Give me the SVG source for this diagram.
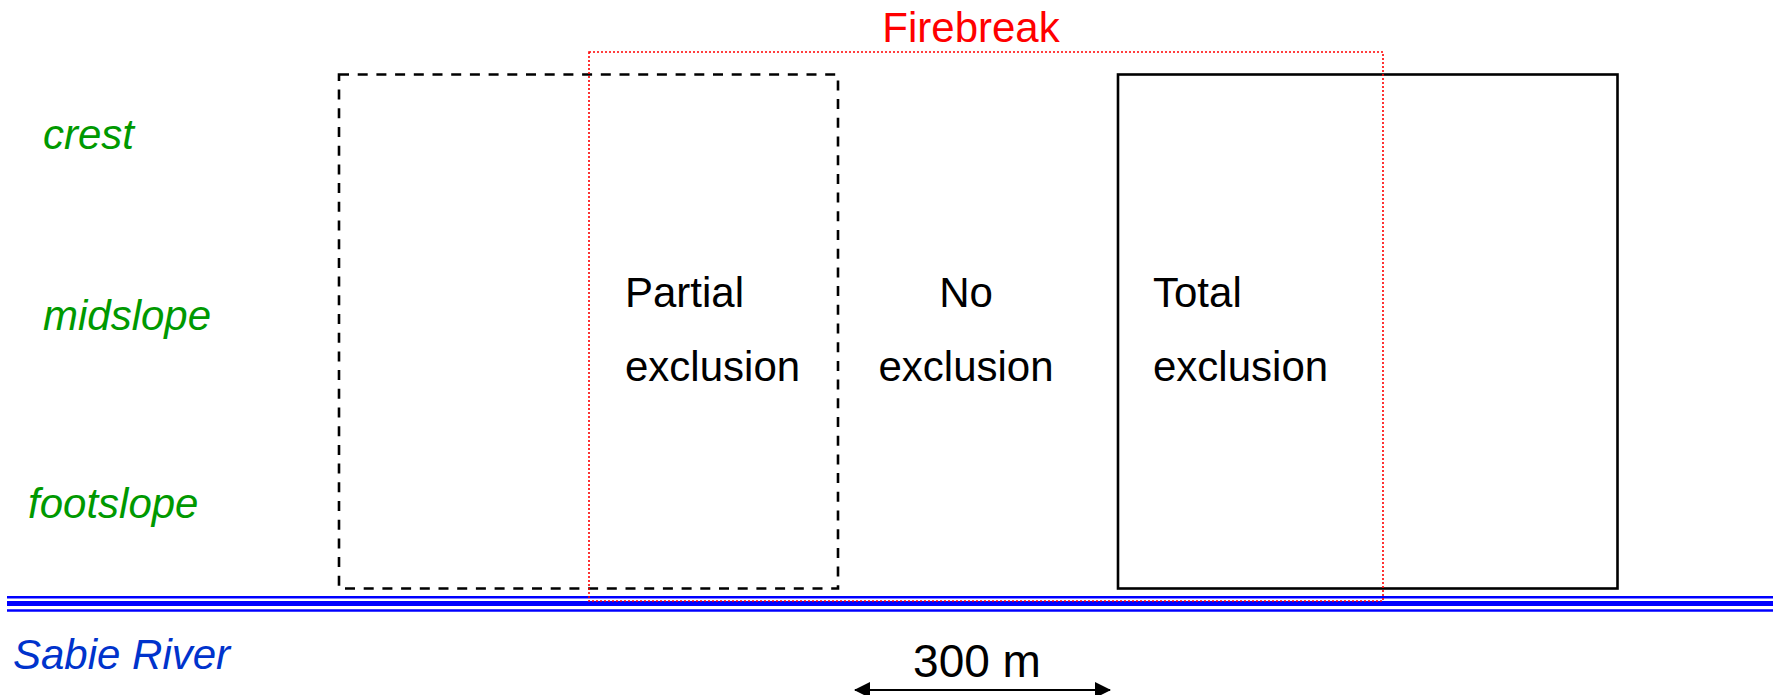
<svg xmlns="http://www.w3.org/2000/svg" width="1773" height="695" viewBox="0 0 1773 695">
<style>
text{font-family:"Liberation Sans",Arial,sans-serif;font-size:42px}
.slope{fill:#009900;font-style:italic}
.lbl{fill:#000}
.river{stroke:#0000ff;fill:none}
</style>
<defs>
<marker id="ah" viewBox="0 0 16 16" refX="15" refY="8" markerWidth="16" markerHeight="16" markerUnits="userSpaceOnUse" orient="auto-start-reverse">
<path d="M0,0 L16,8 L0,16 Z" fill="#000"/>
</marker>
</defs>
<rect width="1773" height="695" fill="#fff"/>
<g id="river">
<line class="river" x1="7" y1="597.3" x2="1773" y2="597.3" stroke-width="2.6"/>
<line class="river" x1="7" y1="603.5" x2="1773" y2="603.5" stroke-width="5"/>
<line class="river" x1="7" y1="610.5" x2="1773" y2="610.5" stroke-width="2.6"/>
<text x="13" y="669" style="fill:#0033cc;font-style:italic">Sabie River</text>
</g>
<g id="slopes">
<text class="slope" x="43" y="149">crest</text>
<text class="slope" x="43" y="330">midslope</text>
<text class="slope" x="28" y="518">footslope</text>
</g>
<g id="partial">
<rect x="339" y="74.5" width="499" height="514" fill="none" stroke="#000" stroke-width="2.6" stroke-dasharray="10 8.7"/>
<text class="lbl" x="625" y="307">Partial</text>
<text class="lbl" x="625" y="381">exclusion</text>
</g>
<g id="none">
<text class="lbl" x="966" y="307" text-anchor="middle">No</text>
<text class="lbl" x="966" y="381" text-anchor="middle">exclusion</text>
</g>
<g id="total">
<rect x="1118" y="74.5" width="499.5" height="514" fill="none" stroke="#000" stroke-width="2.6"/>
<text class="lbl" x="1153" y="307">Total</text>
<text class="lbl" x="1153" y="381">exclusion</text>
</g>
<g id="firebreak">
<rect x="589" y="52" width="794" height="549" fill="none" stroke="#ff0000" stroke-width="1.6" stroke-dasharray="2 2"/>
<text x="971" y="42" text-anchor="middle" style="fill:#ff0000">Firebreak</text>
</g>
<g id="connectors">
<line x1="855" y1="690" x2="1110" y2="690" stroke="#000" stroke-width="2.2" marker-start="url(#ah)" marker-end="url(#ah)"/>
</g>
<g id="scale">
<text x="977" y="677" text-anchor="middle" style="font-size:46px">300 m</text>
</g>
</svg>
